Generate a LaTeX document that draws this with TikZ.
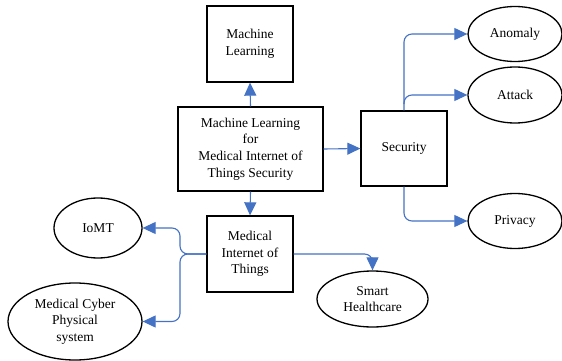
\documentclass[tikz,border=0pt]{standalone}
\usepackage{fontspec}
\setmainfont{Liberation Serif}
\usetikzlibrary{arrows.meta,shapes.geometric}
\definecolor{linkblue}{RGB}{68,114,196}
\begin{document}
\begin{tikzpicture}[x=1pt,y=-1pt,
  box/.style={draw=black,line width=1.3pt,fill=white,align=center,font=\fontsize{13.5}{16.7}\selectfont,inner sep=0pt},
  oval/.style={draw=black,line width=1.3pt,ellipse,fill=white,align=center,font=\fontsize{13.5}{16.7}\selectfont,inner sep=0pt},
  link/.style={draw=linkblue,line width=1.1pt,-{Triangle[width=12pt,length=13pt,fill=linkblue]}},
  rc/.style={rounded corners=8pt}]
\useasboundingbox (0,0) rectangle (562,361);
\node[box,minimum width=86pt,minimum height=76pt] (ml) at (250,44) {Machine\\Learning};
\node[box,minimum width=145pt,minimum height=84pt] (main) at (250.5,149) {Machine Learning\\for\\Medical Internet of\\Things Security};
\node[box,minimum width=86pt,minimum height=75pt] (sec) at (404,148.5) {Security};
\node[box,minimum width=86pt,minimum height=76pt] (miot) at (250,254) {Medical\\Internet of\\Things};
\node[oval,minimum width=94pt,minimum height=55pt] (anom) at (515,34) {Anomaly};
\node[oval,minimum width=94pt,minimum height=56pt] (att) at (515,95) {Attack};
\node[oval,minimum width=94pt,minimum height=55pt] (priv) at (515,221) {Privacy};
\node[oval,minimum width=88pt,minimum height=60pt] (iomt) at (98,228) {IoMT};
\node[oval,minimum width=134pt,minimum height=77pt] (mcps) at (75,321.5) {Medical Cyber\\Physical\\system};
\node[oval,minimum width=111pt,minimum height=56pt] (smart) at (372.5,299) {Smart\\Healthcare};
\coordinate (split) at (180,254);
\coordinate (fork) at (404,104);
\draw[link] (main.north) -- (ml.south);
\draw[link] (main.east) -- (sec.west);
\draw[link] (main.south) -- (miot.north);
\draw[link] (sec.north) [rc] |- (anom.west) [sharp corners];
\draw[link] (fork) [rc] |- (att.west) [sharp corners];
\draw[link] (sec.south) [rc] |- (priv.west) [sharp corners];
\draw[link] (miot.west) [rc] -- (split) |- (iomt.east) [sharp corners];
\draw[link] (miot.west) [rc] -- (split) |- (mcps.east) [sharp corners];
\draw[link] (miot.east) [rc] -| (smart.north) [sharp corners];
\end{tikzpicture}
\end{document}
